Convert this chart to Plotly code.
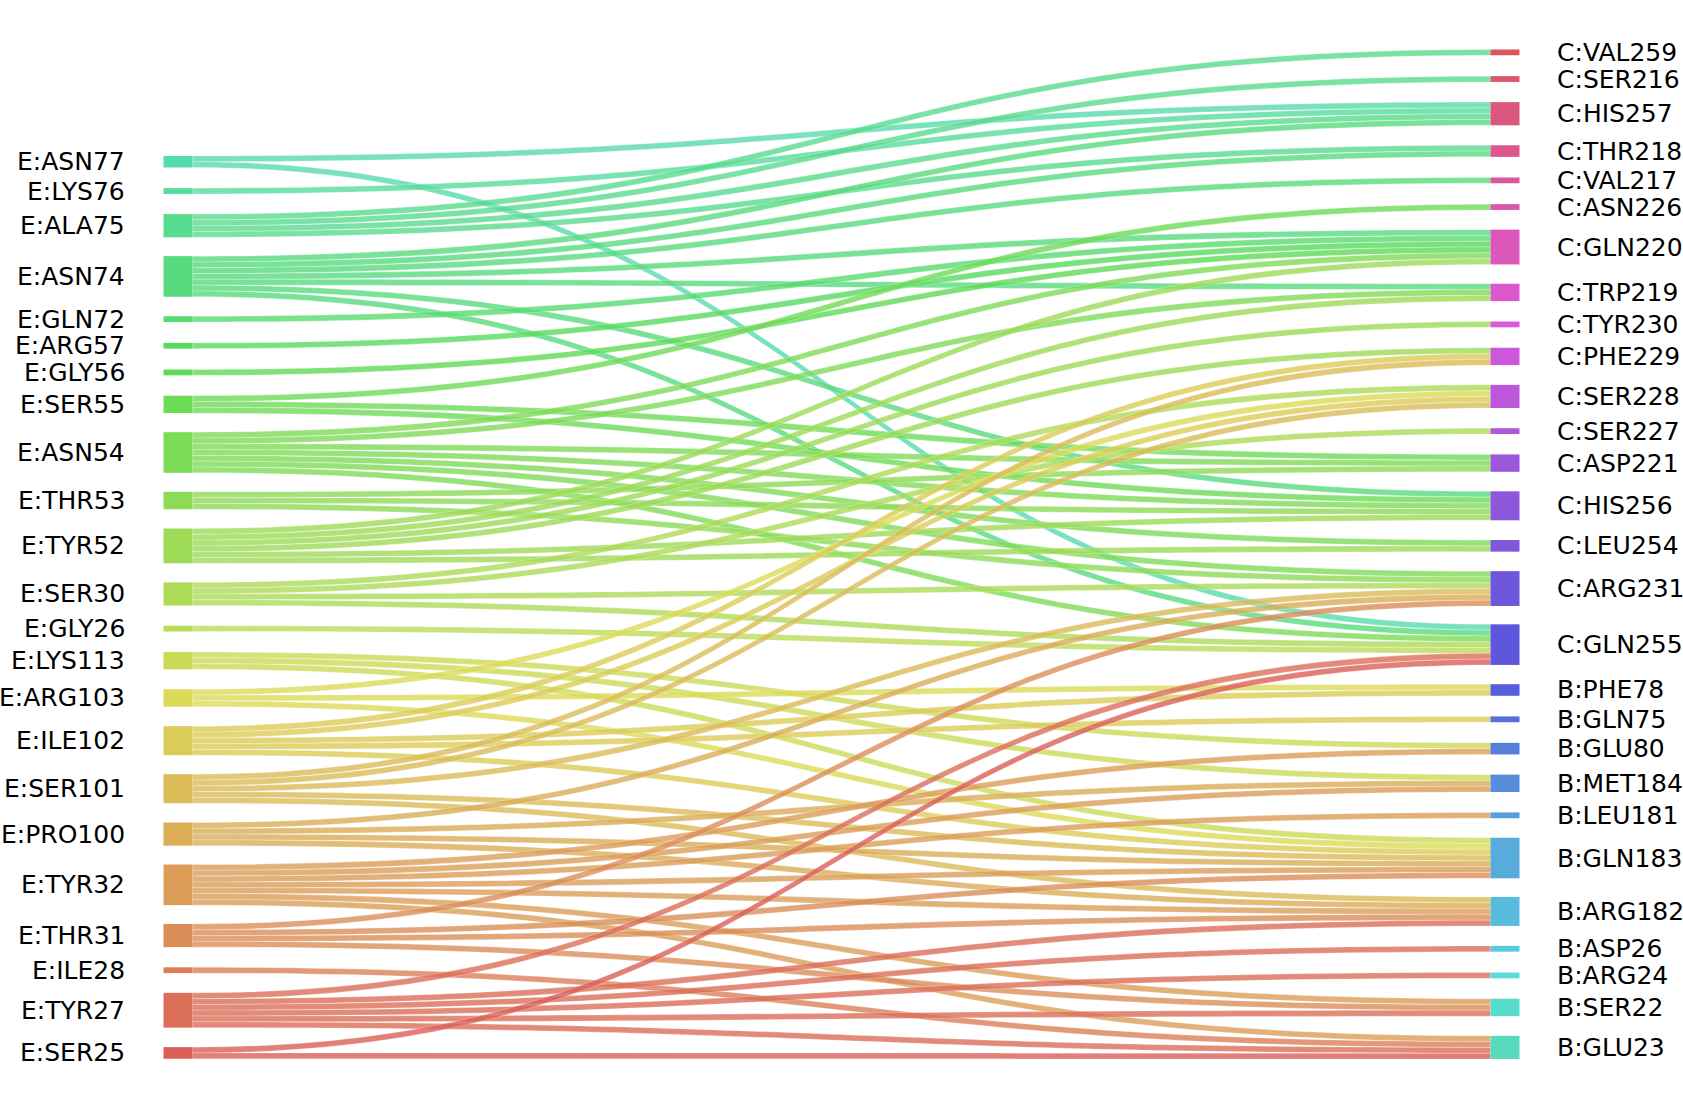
import colorsys
import plotly.graph_objects as go

# ---------------- data ----------------
left_nodes = ["E:ASN77", "E:LYS76", "E:ALA75", "E:ASN74", "E:GLN72", "E:ARG57", "E:GLY56",
              "E:SER55", "E:ASN54", "E:THR53", "E:TYR52", "E:SER30", "E:GLY26", "E:LYS113",
              "E:ARG103", "E:ILE102", "E:SER101", "E:PRO100", "E:TYR32", "E:THR31", "E:ILE28",
              "E:TYR27", "E:SER25"]
right_nodes = ["C:VAL259", "C:SER216", "C:HIS257", "C:THR218", "C:VAL217", "C:ASN226", "C:GLN220",
               "C:TRP219", "C:TYR230", "C:PHE229", "C:SER228", "C:SER227", "C:ASP221", "C:HIS256",
               "C:LEU254", "C:ARG231", "C:GLN255", "B:PHE78", "B:GLN75", "B:GLU80", "B:MET184",
               "B:LEU181", "B:GLN183", "B:ARG182", "B:ASP26", "B:ARG24", "B:SER22", "B:GLU23"]

link_source = (
    ["E:ASN77"] * 2 + ["E:LYS76"] + ["E:ALA75"] * 4 + ["E:ASN74"] * 7 + ["E:GLN72"] + ["E:ARG57"]
    + ["E:GLY56"] + ["E:SER55"] * 3 + ["E:ASN54"] * 7 + ["E:THR53"] * 3 + ["E:TYR52"] * 6
    + ["E:SER30"] * 4 + ["E:GLY26"] + ["E:LYS113"] * 3 + ["E:ARG103"] * 3 + ["E:ILE102"] * 5
    + ["E:SER101"] * 5 + ["E:PRO100"] * 4 + ["E:TYR32"] * 7 + ["E:THR31"] * 4 + ["E:ILE28"]
    + ["E:TYR27"] * 6 + ["E:SER25"] * 2
)
link_target = [
    "C:HIS257", "C:GLN255",
    "C:HIS257",
    "C:VAL259", "C:SER216", "C:HIS257", "C:THR218",
    "C:HIS257", "C:THR218", "C:VAL217", "C:GLN220", "C:TRP219", "C:HIS256", "C:GLN255",
    "C:GLN220",
    "C:GLN220",
    "C:GLN220",
    "C:ASN226", "C:ASP221", "C:HIS256",
    "C:GLN220", "C:TRP219", "C:ASP221", "C:HIS256", "C:LEU254", "C:ARG231", "C:GLN255",
    "C:ASP221", "C:HIS256", "C:ARG231",
    "C:GLN220", "C:TRP219", "C:TYR230", "C:PHE229", "C:HIS256", "C:LEU254",
    "C:SER228", "C:SER227", "C:ARG231", "C:GLN255",
    "C:GLN255",
    "B:GLU80", "B:MET184", "B:GLN183",
    "C:SER228", "B:PHE78", "B:GLN183",
    "C:PHE229", "C:SER228", "B:PHE78", "B:GLN75", "B:GLN183",
    "C:PHE229", "C:SER228", "C:ARG231", "B:GLN183", "B:ARG182",
    "C:ARG231", "B:MET184", "B:GLN183", "B:ARG182",
    "B:GLU80", "B:MET184", "B:LEU181", "B:GLN183", "B:ARG182", "B:SER22", "B:GLU23",
    "C:ARG231", "B:GLN183", "B:ARG182", "B:SER22",
    "B:GLU23",
    "C:GLN255", "B:ARG182", "B:ASP26", "B:ARG24", "B:SER22", "B:GLU23",
    "C:GLN255", "B:GLU23",
]
link_value = [1] * len(link_target)  # one contact per link

# ---------------- colours (hls palette, 51 colours) ----------------
n_all = len(left_nodes) + len(right_nodes)
palette = []
for i in range(n_all):
    r, g, b = colorsys.hls_to_rgb((i / n_all + 0.01) % 1, 0.6, 0.65)
    palette.append((int(round(r * 255)), int(round(g * 255)), int(round(b * 255))))
# colour order: left column bottom->top, then right column bottom->top
left_cols = [palette[len(left_nodes) - 1 - i] for i in range(len(left_nodes))]
right_cols = [palette[n_all - 1 - j] for j in range(len(right_nodes))]
node_cols = left_cols + right_cols

# ---------------- geometry ----------------
FIG_W, FIG_H = 1683, 1108
TOP_VIS, BOTTOM_VIS = 48.0, 1060.0      # outer extent of the node columns (px from top)
UNIT_LAYOUT, NODE_EXTRA, GAP = 5.35, 3.4, 17.9   # spacing model of the columns
UNIT_DRAW = 5.8                           # drawn px per contact
LEFT_X, RIGHT_X = 178, 1505
THICK = 29
FONT_SIZE = 25

nodes = left_nodes + right_nodes
idx = {n: i for i, n in enumerate(nodes)}
node_val = [0] * len(nodes)
for s, t, v in zip(link_source, link_target, link_value):
    node_val[idx[s]] += v
    node_val[idx[t]] += v

centers = [0.0] * len(nodes)
y = TOP_VIS
for n in right_nodes:          # right column stacked from the top
    h = node_val[idx[n]] * UNIT_LAYOUT + NODE_EXTRA
    centers[idx[n]] = y + h / 2
    y += h + GAP
y = BOTTOM_VIS
for n in reversed(left_nodes):  # left column stacked from the bottom
    h = node_val[idx[n]] * UNIT_LAYOUT + NODE_EXTRA
    centers[idx[n]] = y - h / 2
    y -= h + GAP

H = BOTTOM_VIS - TOP_VIS
total = sum(node_val[:len(left_nodes)])
pad_draw = (H - total * UNIT_DRAW) / (len(right_nodes) - 1)

node_x = [1e-6] * len(left_nodes) + [1 - 1e-6] * len(right_nodes)
node_y = [(c - TOP_VIS) / H for c in centers]


def hexc(c):
    return "#%02x%02x%02x" % c


def rgba(c, a):
    return "rgba(%d,%d,%d,%.2f)" % (c[0], c[1], c[2], a)


fig = go.Figure(go.Sankey(
    arrangement="fixed",
    domain=dict(x=[LEFT_X / FIG_W, RIGHT_X / FIG_W], y=[1 - BOTTOM_VIS / FIG_H, 1 - TOP_VIS / FIG_H]),
    node=dict(
        label=nodes,
        x=node_x,
        y=node_y,
        pad=pad_draw,
        thickness=THICK,
        color=[hexc(c) for c in node_cols],
        line=dict(color="rgba(0,0,0,0)", width=0),
    ),
    link=dict(
        source=[idx[s] for s in link_source],
        target=[idx[t] for t in link_target],
        value=link_value,
        color=[rgba(node_cols[idx[s]], 0.8) for s in link_source],
        line=dict(color="rgba(255,255,255,0.3)", width=0.8),
    ),
    textfont=dict(color="rgba(0,0,0,0)", size=1),
))

annotations = []
for n in left_nodes:
    annotations.append(dict(
        x=127 / FIG_W, y=1 - centers[idx[n]] / FIG_H, xref="paper", yref="paper",
        text=n, showarrow=False, xanchor="right", yanchor="middle",
        font=dict(family="DejaVu Sans", size=FONT_SIZE, color="black")))
for n in right_nodes:
    annotations.append(dict(
        x=1555 / FIG_W, y=1 - centers[idx[n]] / FIG_H, xref="paper", yref="paper",
        text=n, showarrow=False, xanchor="left", yanchor="middle",
        font=dict(family="DejaVu Sans", size=FONT_SIZE, color="black")))

fig.update_layout(
    width=FIG_W, height=FIG_H,
    margin=dict(l=0, r=0, t=0, b=0),
    paper_bgcolor="white", plot_bgcolor="white",
    annotations=annotations,
    font=dict(family="DejaVu Sans"),
)

fig.write_html("out.html", config={"displayModeBar": False},
               post_script="document.body.style.margin='0';document.body.style.overflow='hidden';")
